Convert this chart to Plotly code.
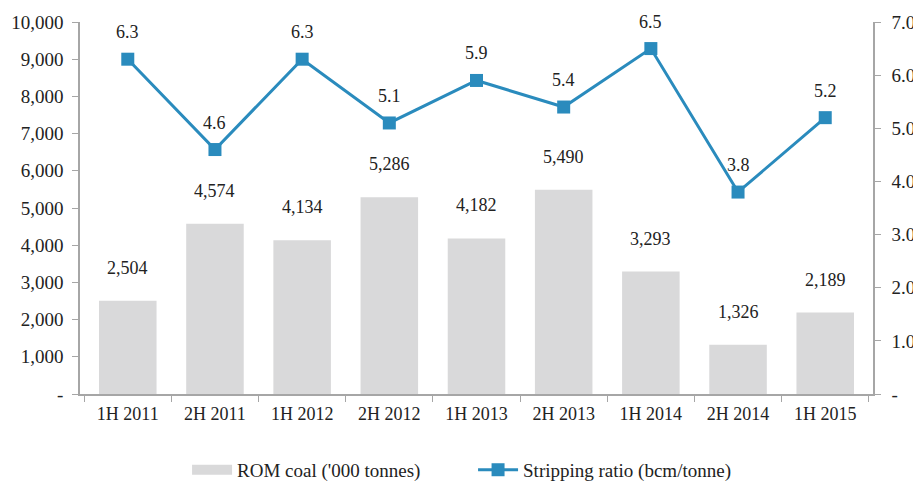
import plotly.graph_objects as go

# data
periods = ["1H 2011", "2H 2011", "1H 2012", "2H 2012", "1H 2013",
           "2H 2013", "1H 2014", "2H 2014", "1H 2015"]
rom_coal = [2504, 4574, 4134, 5286, 4182, 5490, 3293, 1326, 2189]
stripping_ratio = [6.3, 4.6, 6.3, 5.1, 5.9, 5.4, 6.5, 3.8, 5.2]

left_ticks = [0, 1000, 2000, 3000, 4000, 5000, 6000, 7000, 8000, 9000, 10000]
left_text = ["-"] + [f"{v:,}" for v in left_ticks[1:]]
right_ticks = [0, 1, 2, 3, 4, 5, 6, 7]
right_text = ["-"] + [f"{v:.1f}" for v in right_ticks[1:]]

bar_color = "#d9d9da"
line_color = "#2a8bbd"
axis_color = "#a6a6a6"
font = dict(family="Liberation Serif", size=18, color="#222222")
big_font = dict(family="Liberation Serif", size=19, color="#222222")

fig = go.Figure()

fig.add_trace(go.Bar(
    x=periods, y=rom_coal,
    name="ROM coal ('000 tonnes)",
    marker=dict(color=bar_color, line=dict(width=0)),
    width=0.66,
    showlegend=False,
))

# legend swatch for the bars (wide grey band like the original)
fig.add_trace(go.Scatter(
    x=[None], y=[None],
    name="ROM coal ('000 tonnes)",
    mode="lines",
    line=dict(color=bar_color, width=13),
))

fig.add_trace(go.Scatter(
    x=periods, y=stripping_ratio,
    name="Stripping ratio (bcm/tonne)",
    mode="lines+markers",
    line=dict(color=line_color, width=3),
    marker=dict(symbol="square", size=13, color=line_color),
    yaxis="y2",
))

annotations = []
for p, v in zip(periods, rom_coal):
    annotations.append(dict(x=p, y=v, xref="x", yref="y", text=f"{v:,}",
                            showarrow=False, yanchor="bottom", yshift=21, font=font))
for p, v in zip(periods, stripping_ratio):
    annotations.append(dict(x=p, y=v, xref="x", yref="y2", text=f"{v:.1f}",
                            showarrow=False, yanchor="bottom", yshift=15, font=font))

# page body has an 8px margin, so the figure is offset by 8px
fig.update_layout(
    width=913, height=476,
    margin=dict(l=72, r=48, t=14, b=90, autoexpand=False),
    paper_bgcolor="white", plot_bgcolor="white",
    font=font,
    showlegend=True,
    legend=dict(orientation="h", x=0.135, xanchor="left", y=-0.204, yanchor="middle",
                font=big_font, itemwidth=40, traceorder="normal",
                entrywidth=231),
    xaxis=dict(
        showline=True, linecolor=axis_color, linewidth=1.5,
        ticks="outside", tickcolor=axis_color, ticklen=6, tickson="boundaries",
        showgrid=False, tickfont=font, ticklabelstandoff=3,
    ),
    yaxis=dict(
        range=[0, 10000], tickvals=left_ticks, ticktext=left_text,
        showline=True, linecolor=axis_color, linewidth=1.5,
        ticks="outside", tickcolor=axis_color, ticklen=6,
        showgrid=False, zeroline=False, tickfont=big_font, ticklabelstandoff=5,
    ),
    yaxis2=dict(
        range=[0, 7], tickvals=right_ticks, ticktext=right_text,
        overlaying="y", side="right",
        showline=True, linecolor=axis_color, linewidth=1.5,
        ticks="outside", tickcolor=axis_color, ticklen=6,
        showgrid=False, zeroline=False, tickfont=big_font, ticklabelstandoff=7,
    ),
    annotations=annotations,
)

fig.write_html("out.html")
